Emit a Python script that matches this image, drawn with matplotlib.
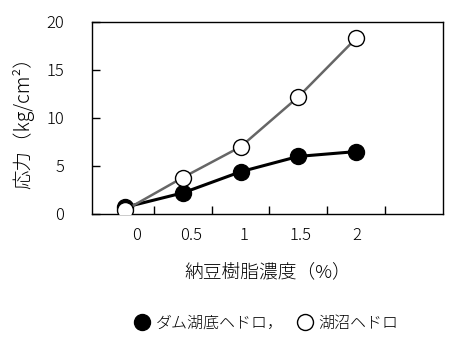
import matplotlib
matplotlib.use("Agg")
import matplotlib.pyplot as plt
from matplotlib.transforms import ScaledTranslation

plt.rcParams['font.family'] = ['Noto Sans CJK JP', 'DejaVu Sans']

categories = ["0", "0.5", "1", "1.5", "2"]
dam_values = [0.7, 2.2, 4.4, 6.0, 6.5]
lake_values = [0.4, 3.8, 7.0, 12.2, 18.3]
label_dam = "ダム湖底ヘドロ，"
label_lake = "湖沼ヘドロ"
yticks = [0, 5, 10, 15, 20]

fig = plt.figure(figsize=(4.62, 3.55), dpi=100)
ax = fig.add_axes([92/462, 1-214/355, 351/462, 192/355])

x = list(range(len(categories)))
ax.plot(x, dam_values, color='black', lw=2.2, marker='o', ms=11.5,
        mfc='black', mec='black', mew=1, label=label_dam, zorder=3)
ax.plot(x, lake_values, color='#666666', lw=1.8, marker='o', ms=11.5,
        mfc='white', mec='black', mew=1, label=label_lake, zorder=4)

ax.set_xlim(-0.573, 5.505)
ax.set_ylim(0, 20)

# category tick marks between categories, labels at category centres
ax.set_xticks([i + 0.5 for i in range(len(categories))])
ax.set_xticklabels([])
ax.set_xticks(x, minor=True)
ax.set_xticklabels(categories, minor=True, fontsize=12, fontweight='light')
ax.tick_params(axis='x', which='major', direction='in', length=6, width=1, top=False)
ax.tick_params(axis='x', which='minor', length=0, pad=9)
offsets = [11, 8, 3, 2, 1]
for lab, off in zip(ax.get_xticklabels(minor=True), offsets):
    lab.set_transform(lab.get_transform() + ScaledTranslation(off/100, 0, fig.dpi_scale_trans))

ax.set_yticks(yticks)
ax.set_yticklabels([str(v) for v in yticks], fontsize=12, fontweight='light')
ax.tick_params(axis='y', direction='in', length=6, width=1, pad=20, right=False)

for s in ax.spines.values():
    s.set_linewidth(1)
    s.set_color('black')

ax.set_xlabel("納豆樹脂濃度（%）", fontsize=13.5, fontweight='light')
ax.xaxis.label.set_va('center')
ax.xaxis.set_label_coords(0.5, -0.305)
ax.set_ylabel("応力（kg/cm²）", fontsize=14, fontweight='light')
ax.yaxis.label.set_va('center')
ax.yaxis.set_label_coords(-0.197, 0.5)

fig.legend(loc='center', bbox_to_anchor=(0.578, 0.09), ncol=2, frameon=False,
           prop={'size': 11.5, 'weight': 'light'}, handlelength=0.8,
           handletextpad=0.45, columnspacing=0.9)
leg = fig.legends[0]
for h in leg.legend_handles:
    h.set_linestyle('none')

fig.savefig("out.png", dpi=100)
